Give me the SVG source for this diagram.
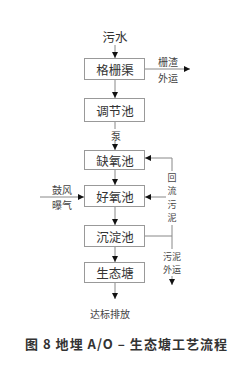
<svg xmlns="http://www.w3.org/2000/svg" width="236" height="376" viewBox="0 0 236 376">
<style>
.box{fill:#fff;stroke:#999;stroke-width:1}
.t{font-family:"Noto Sans CJK SC","Noto Sans",sans-serif;font-size:12.5px;fill:#333;text-anchor:middle;dominant-baseline:central}
.s{font-family:"Noto Sans CJK SC","Noto Sans",sans-serif;font-size:10px;fill:#444;text-anchor:middle;dominant-baseline:central}
.v{font-family:"Noto Sans CJK SC","Noto Sans",sans-serif;font-size:9px;fill:#444;text-anchor:middle;dominant-baseline:central}
.ln{fill:none;stroke:#888;stroke-width:1}
.title{font-family:"Noto Sans CJK SC","Noto Sans",sans-serif;font-size:13px;font-weight:bold;fill:#333;dominant-baseline:central}
</style>
<defs>
<marker id="ah" viewBox="0 0 6 6" refX="6" refY="3" markerWidth="6" markerHeight="6" markerUnits="userSpaceOnUse" orient="auto">
<path d="M0,0 L6,3 L0,6 Z" fill="#111"/>
</marker>
</defs>
<rect width="236" height="376" fill="#fff"/>
<g id="connectors">
<line class="ln" x1="115" y1="45" x2="115" y2="58" marker-end="url(#ah)"/>
<line class="ln" x1="115" y1="80" x2="115" y2="98" marker-end="url(#ah)"/>
<line class="ln" x1="115" y1="122" x2="115" y2="129"/>
<line class="ln" x1="115" y1="141" x2="115" y2="150" marker-end="url(#ah)"/>
<line class="ln" x1="115" y1="170" x2="115" y2="185" marker-end="url(#ah)"/>
<line class="ln" x1="115" y1="207" x2="115" y2="225" marker-end="url(#ah)"/>
<line class="ln" x1="115" y1="247" x2="115" y2="262" marker-end="url(#ah)"/>
<line class="ln" x1="115" y1="283" x2="115" y2="299" marker-end="url(#ah)"/>
<line class="ln" x1="145" y1="69" x2="190" y2="69" marker-end="url(#ah)"/>
<line class="ln" x1="40" y1="197" x2="84" y2="197" marker-end="url(#ah)"/>
<line class="ln" x1="145" y1="236" x2="172" y2="236"/>
<line class="ln" x1="172" y1="225" x2="172" y2="249"/>
<line class="ln" x1="172" y1="171" x2="172" y2="158"/>
<line class="ln" x1="172" y1="158" x2="145" y2="158" marker-end="url(#ah)"/>
<line class="ln" x1="166" y1="197" x2="145" y2="197" marker-end="url(#ah)"/>
<line class="ln" x1="172" y1="276" x2="172" y2="285" marker-end="url(#ah)"/>
</g>
<text class="t" x="115" y="36">污水</text>
<g id="n1"><rect class="box" x="84.5" y="58.5" width="60" height="21"/><text class="t" x="115" y="69">格栅渠</text></g>
<g id="n2"><rect class="box" x="84.5" y="98.5" width="60" height="23"/><text class="t" x="115" y="110">调节池</text></g>
<text class="s" x="116" y="135">泵</text>
<g id="n3"><rect class="box" x="84.5" y="150.5" width="60" height="19"/><text class="t" x="115" y="160">缺氧池</text></g>
<g id="n4"><rect class="box" x="84.5" y="185.5" width="60" height="21"/><text class="t" x="115" y="196">好氧池</text></g>
<g id="n5"><rect class="box" x="84.5" y="225.5" width="60" height="21"/><text class="t" x="115" y="236">沉淀池</text></g>
<g id="n6"><rect class="box" x="84.5" y="262.5" width="60" height="20"/><text class="t" x="115" y="272.5">生态塘</text></g>
<text class="s" x="110" y="313">达标排放</text>
<text class="s"><tspan x="168" y="61">栅渣</tspan><tspan x="168" y="77">外运</tspan></text>
<text class="s"><tspan x="62" y="189">鼓风</tspan><tspan x="62" y="204">曝气</tspan></text>
<text class="v"><tspan x="172" y="176.5">回</tspan><tspan x="172" y="190">流</tspan><tspan x="172" y="203.5">污</tspan><tspan x="172" y="217">泥</tspan></text>
<text class="v"><tspan x="172" y="255.5">污泥</tspan><tspan x="172" y="269">外运</tspan></text>
<text class="title" x="25" y="343" textLength="202" lengthAdjust="spacing">图 8  地埋 A/O – 生态塘工艺流程</text>
</svg>
